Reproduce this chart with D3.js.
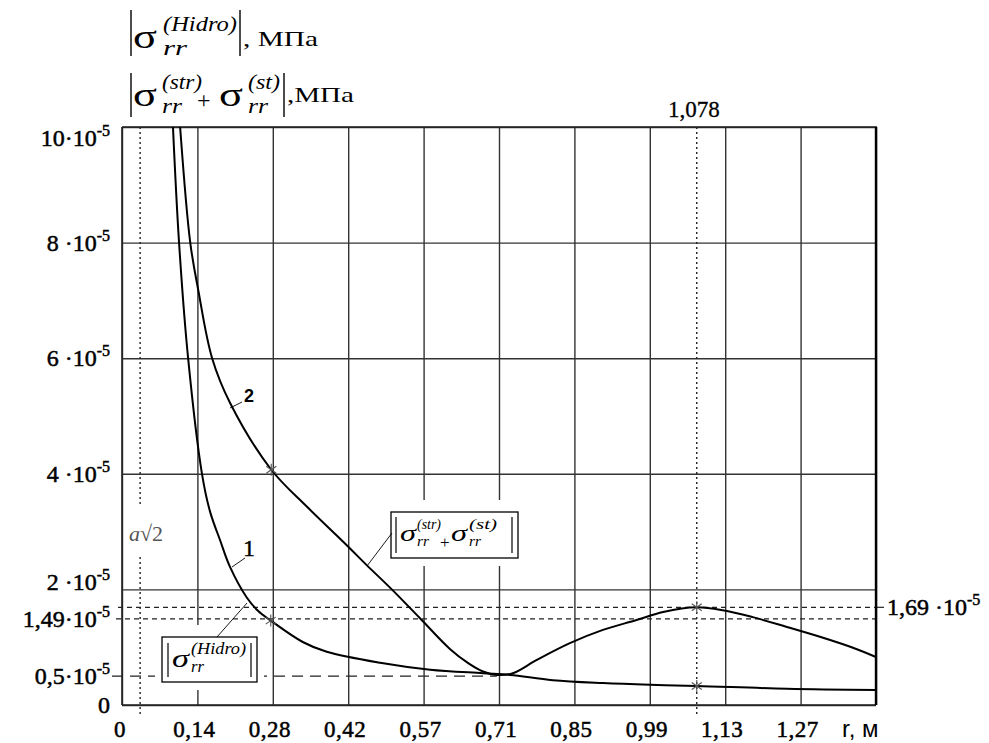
<!DOCTYPE html>
<html>
<head>
<meta charset="utf-8">
<script src="https://cdn.jsdelivr.net/npm/d3@7"></script>
<style>
  body { margin: 0; background: #fff; }
  svg text { font-family: "Liberation Serif", "Times New Roman", serif; fill: #000; }
</style>
</head>
<body>
<div class="canva"></div>
<script>
// values in units of 1e-5 MPa, r in metres
const xTicks = d3.range(0, 11).map(i => i * 0.14142);
const xTickLabels = ['0', '0,14', '0,28', '0,42', '0,57', '0,71', '0,85', '0,99', '1,13', '1,27'];
const yGrid = [0, 2, 4, 6, 8, 10];
const yTickValues = [10, 8, 6, 4, 2, 1.49, 0.5, 0];
const yTickLabels = ['10·10', '8 ·10', '6 ·10', '4 ·10', '2 ·10', '1,49·10', '0,5·10', '0'];

// curve 1: |sigma_rr(Hidro)|
const hidroR = [0.0956, 0.107, 0.124, 0.150, 0.165, 0.184, 0.203, 0.234, 0.255, 0.279, 0.339, 0.384, 0.484, 0.578, 0.677, 0.728, 0.808, 0.902, 0.99, 1.078, 1.247, 1.414];
const hidroV = [10.0, 8.0, 6.0, 4.0, 3.35, 2.85, 2.38, 1.86, 1.63, 1.46, 1.09, 0.92, 0.73, 0.61, 0.55, 0.52, 0.43, 0.38, 0.35, 0.33, 0.28, 0.26];

// curve 2: |sigma_rr(str) + sigma_rr(st)|
const sumR = [0.109, 0.128, 0.143, 0.169, 0.203, 0.28, 0.347, 0.422, 0.459, 0.506, 0.559, 0.615, 0.65, 0.677, 0.703, 0.733, 0.778, 0.84, 0.902, 0.965, 1.015, 1.078, 1.127, 1.183, 1.247, 1.309, 1.371, 1.414];
const sumV = [10.0, 8.0, 7.18, 6.0, 5.22, 4.07, 3.43, 2.76, 2.42, 2.0, 1.5, 0.97, 0.72, 0.58, 0.52, 0.55, 0.78, 1.07, 1.3, 1.47, 1.61, 1.69, 1.64, 1.52, 1.35, 1.18, 0.99, 0.83];

// marked points
const markR = [0.279, 0.28, 1.078, 1.078];
const markV = [1.46, 4.07, 1.69, 0.33];

const aSqrt2 = 0.034;
const rPeak = 1.078;

const W = 989, H = 743;
const svg = d3.select('.canva').append('svg')
    .attr('width', W)
    .attr('height', H);

const x = d3.scaleLinear().domain([0, 1.4142]).range([122, 876]);
const y = d3.scaleLinear().domain([0, 10]).range([705, 127]);

const gridColor = '#333';

// vertical grid
svg.append('g')
    .attr('transform', 'translate(0,705)')
    .call(d3.axisBottom(x).tickValues(xTicks).tickSize(-578).tickFormat(''))
    .call(g => g.select('.domain').remove())
    .call(g => g.selectAll('line').attr('stroke', gridColor).attr('stroke-width', 1.4));

// horizontal grid
svg.append('g')
    .attr('transform', 'translate(122,0)')
    .call(d3.axisLeft(y).tickValues(yGrid).tickSize(-754).tickFormat(''))
    .call(g => g.select('.domain').remove())
    .call(g => g.selectAll('line').attr('stroke', gridColor).attr('stroke-width', 1.4));

// dashed reference levels
svg.append('line')
    .attr('x1', 118).attr('x2', 876)
    .attr('y1', y(1.69)).attr('y2', y(1.69))
    .attr('stroke', '#222').attr('stroke-width', 1.2).attr('stroke-dasharray', '5,4');
svg.append('line')
    .attr('x1', 876).attr('x2', 884)
    .attr('y1', y(1.69)).attr('y2', y(1.69))
    .attr('stroke', '#222').attr('stroke-width', 1.2);
svg.append('line')
    .attr('x1', 116).attr('x2', 876)
    .attr('y1', y(1.49)).attr('y2', y(1.49))
    .attr('stroke', '#222').attr('stroke-width', 1.2).attr('stroke-dasharray', '5,4');
svg.append('line')
    .attr('x1', 112).attr('x2', x(0.703))
    .attr('y1', y(0.5)).attr('y2', y(0.5))
    .attr('stroke', '#222').attr('stroke-width', 1.2).attr('stroke-dasharray', '11,7');

// dotted verticals
svg.append('line')
    .attr('x1', x(aSqrt2)).attr('x2', x(aSqrt2))
    .attr('y1', 127).attr('y2', 506)
    .attr('stroke', '#222').attr('stroke-width', 1.4).attr('stroke-dasharray', '2,3');
svg.append('line')
    .attr('x1', x(aSqrt2)).attr('x2', x(aSqrt2))
    .attr('y1', 557).attr('y2', 714)
    .attr('stroke', '#222').attr('stroke-width', 1.4).attr('stroke-dasharray', '2,3');
svg.append('line')
    .attr('x1', x(rPeak)).attr('x2', x(rPeak))
    .attr('y1', 127).attr('y2', 714)
    .attr('stroke', '#222').attr('stroke-width', 1.4).attr('stroke-dasharray', '2,3');

// white backing for legend boxes
const boxes = [
  { x0: 162, y0: 637, x1: 257, y1: 682 },
  { x0: 391, y0: 512, x1: 518, y1: 558 }
];
boxes.forEach(b => {
  svg.append('rect')
      .attr('x', b.x0 - 7).attr('y', b.y0 - 12)
      .attr('width', b.x1 - b.x0 + 14).attr('height', b.y1 - b.y0 + 20)
      .attr('fill', '#fff');
});

// frame
svg.append('line').attr('x1', 122).attr('x2', 122).attr('y1', 127).attr('y2', 705)
    .attr('stroke', '#222').attr('stroke-width', 1.6);
svg.append('line').attr('x1', 122).attr('x2', 876).attr('y1', 705).attr('y2', 705)
    .attr('stroke', '#222').attr('stroke-width', 1.6);
svg.append('line').attr('x1', 122).attr('x2', 877).attr('y1', 127).attr('y2', 127)
    .attr('stroke', '#222').attr('stroke-width', 1.6);
svg.append('line').attr('x1', 876).attr('x2', 876).attr('y1', 127).attr('y2', 705)
    .attr('stroke', '#000').attr('stroke-width', 2.4);

// curves
const line = d3.line()
    .x(d => x(d[0]))
    .y(d => y(d[1]))
    .curve(d3.curveCatmullRom.alpha(0.5));

svg.append('path')
    .datum(d3.zip(hidroR, hidroV))
    .attr('d', line)
    .attr('fill', 'none').attr('stroke', '#000').attr('stroke-width', 2);
svg.append('path')
    .datum(d3.zip(sumR, sumV))
    .attr('d', line)
    .attr('fill', 'none').attr('stroke', '#000').attr('stroke-width', 2);

// asterisks
d3.zip(markR, markV).forEach(([r, v]) => {
  const cx = x(r), cy = y(v), s = 6;
  const g = svg.append('g').attr('stroke', '#555').attr('stroke-width', 1.1);
  g.append('line').attr('x1', cx).attr('x2', cx).attr('y1', cy - s).attr('y2', cy + s);
  g.append('line').attr('x1', cx - 5).attr('x2', cx + 5).attr('y1', cy - 3.5).attr('y2', cy + 3.5);
  g.append('line').attr('x1', cx - 5).attr('x2', cx + 5).attr('y1', cy + 3.5).attr('y2', cy - 3.5);
});

// legend boxes
boxes.forEach(b => {
  svg.append('rect')
      .attr('x', b.x0).attr('y', b.y0)
      .attr('width', b.x1 - b.x0).attr('height', b.y1 - b.y0)
      .attr('fill', 'none').attr('stroke', '#000').attr('stroke-width', 1.3);
});

// leader lines
const leaders = [
  [217, 637, 247, 603],
  [392, 533, 367, 566],
  [232, 567, 245, 558],
  [230, 408, 242, 402]
];
leaders.forEach(l => {
  svg.append('line')
      .attr('x1', l[0]).attr('y1', l[1]).attr('x2', l[2]).attr('y2', l[3])
      .attr('stroke', '#000').attr('stroke-width', 0.9);
});

// curve numbers
svg.append('text').text('1').attr('x', 243).attr('y', 556)
    .attr('font-size', 24).attr('stroke', '#000').attr('stroke-width', 0.4);
svg.append('text').text('2').attr('x', 244).attr('y', 402)
    .attr('font-size', 18).attr('font-weight', 'bold')
    .style('font-family', 'Liberation Sans, Arial, sans-serif');

// vertical bars used as |...| delimiters
function bar(xp, ya, yb, w) {
  svg.append('line').attr('x1', xp).attr('x2', xp).attr('y1', ya).attr('y2', yb)
      .attr('stroke', '#000').attr('stroke-width', w || 1.4);
}

// sigma with sup/sub
function sigma(o) {
  svg.append('text').text('σ').attr('x', o.x).attr('y', o.base)
      .attr('font-size', o.size)
      .attr('textLength', o.sigW).attr('lengthAdjust', 'spacingAndGlyphs')
      .attr('font-style', o.italic ? 'italic' : 'normal');
  svg.append('text').text(o.sup).attr('x', o.supX).attr('y', o.base - o.size * 0.5)
      .attr('font-size', o.supSize).attr('font-style', 'italic')
      .attr('textLength', o.supW).attr('lengthAdjust', 'spacingAndGlyphs');
  svg.append('text').text('rr').attr('x', o.supX).attr('y', o.base + o.size * 0.2)
      .attr('font-size', o.supSize).attr('font-style', 'italic')
      .attr('textLength', o.subW).attr('lengthAdjust', 'spacingAndGlyphs');
}

// header line 1
bar(131, 10, 56);
sigma({ x: 133, base: 48, size: 34, sigW: 24, italic: false, sup: '(Hidro)', supX: 163, supW: 74, supSize: 20, subW: 24 });
bar(240, 10, 56);
svg.append('text').text(', МПа').attr('x', 243).attr('y', 46)
    .attr('font-size', 22).attr('textLength', 75).attr('lengthAdjust', 'spacingAndGlyphs');

// header line 2
bar(131, 73, 117);
sigma({ x: 133, base: 106, size: 34, sigW: 24, italic: false, sup: '(str)', supX: 162, supW: 40, supSize: 20, subW: 20 });
svg.append('text').text('+').attr('x', 197).attr('y', 108).attr('font-size', 24);
sigma({ x: 219, base: 106, size: 34, sigW: 24, italic: false, sup: '(st)', supX: 248, supW: 32, supSize: 20, subW: 20 });
bar(284, 73, 117);
svg.append('text').text(',МПа').attr('x', 287).attr('y', 102)
    .attr('font-size', 22).attr('textLength', 67).attr('lengthAdjust', 'spacingAndGlyphs');

// legend box 1 content
bar(168, 643, 677, 1.2);
sigma({ x: 172, base: 667, size: 26, sigW: 17, italic: true, sup: '(Hidro)', supX: 191, supW: 55, supSize: 16, subW: 13 });
bar(251, 643, 677, 1.2);

// legend box 2 content
bar(396, 517, 553, 1.2);
sigma({ x: 400, base: 541, size: 24, sigW: 16, italic: true, sup: '(str)', supX: 417, supW: 24, supSize: 14, subW: 12 });
svg.append('text').text('+').attr('x', 440).attr('y', 548).attr('font-size', 17);
sigma({ x: 451, base: 541, size: 24, sigW: 16, italic: true, sup: '(st)', supX: 469, supW: 28, supSize: 14, subW: 12 });
bar(512, 517, 553, 1.2);

// x tick labels
xTickLabels.forEach((t, i) => {
  svg.append('text').text(t)
      .attr('x', x(xTicks[i]) - (i === 0 ? 2 : 3)).attr('y', 737)
      .attr('text-anchor', 'middle')
      .attr('font-size', 23).attr('letter-spacing', 0.5)
      .attr('stroke', '#000').attr('stroke-width', 0.5);
});
svg.append('text').text('r, м').attr('x', 842).attr('y', 737)
    .attr('font-size', 24)
    .style('font-family', 'Liberation Sans, Arial, sans-serif');

// y tick labels
yTickValues.forEach((v, i) => {
  let off = 8;
  if (v === 10) off = 19;
  if (v === 2) off = 1;
  const t = svg.append('text')
      .attr('x', 110).attr('y', y(v) + off)
      .attr('text-anchor', 'end')
      .attr('font-size', 24)
      .attr('stroke', '#000').attr('stroke-width', 0.5);
  t.append('tspan').text(yTickLabels[i]);
  if (v !== 0) {
    t.append('tspan').text('-5').attr('dy', -10).attr('font-size', 16);
  }
});

// right label 1,69
const r169 = svg.append('text').attr('x', 887).attr('y', y(1.69) + 8)
    .attr('font-size', 24)
    .attr('stroke', '#000').attr('stroke-width', 0.5);
r169.append('tspan').text('1,69 ·10');
r169.append('tspan').text('-5').attr('dy', -10).attr('font-size', 16);

// top label 1,078
svg.append('text').text('1,078').attr('x', x(rPeak) - 3).attr('y', 117)
    .attr('text-anchor', 'middle').attr('font-size', 23)
    .attr('stroke', '#000').attr('stroke-width', 0.3);

// a*sqrt(2)
const aLab = svg.append('text').attr('x', 129).attr('y', 541)
    .attr('font-size', 22).style('fill', '#555');
aLab.append('tspan').text('a').attr('font-style', 'italic');
aLab.append('tspan').text('√2');
</script>
</body>
</html>
